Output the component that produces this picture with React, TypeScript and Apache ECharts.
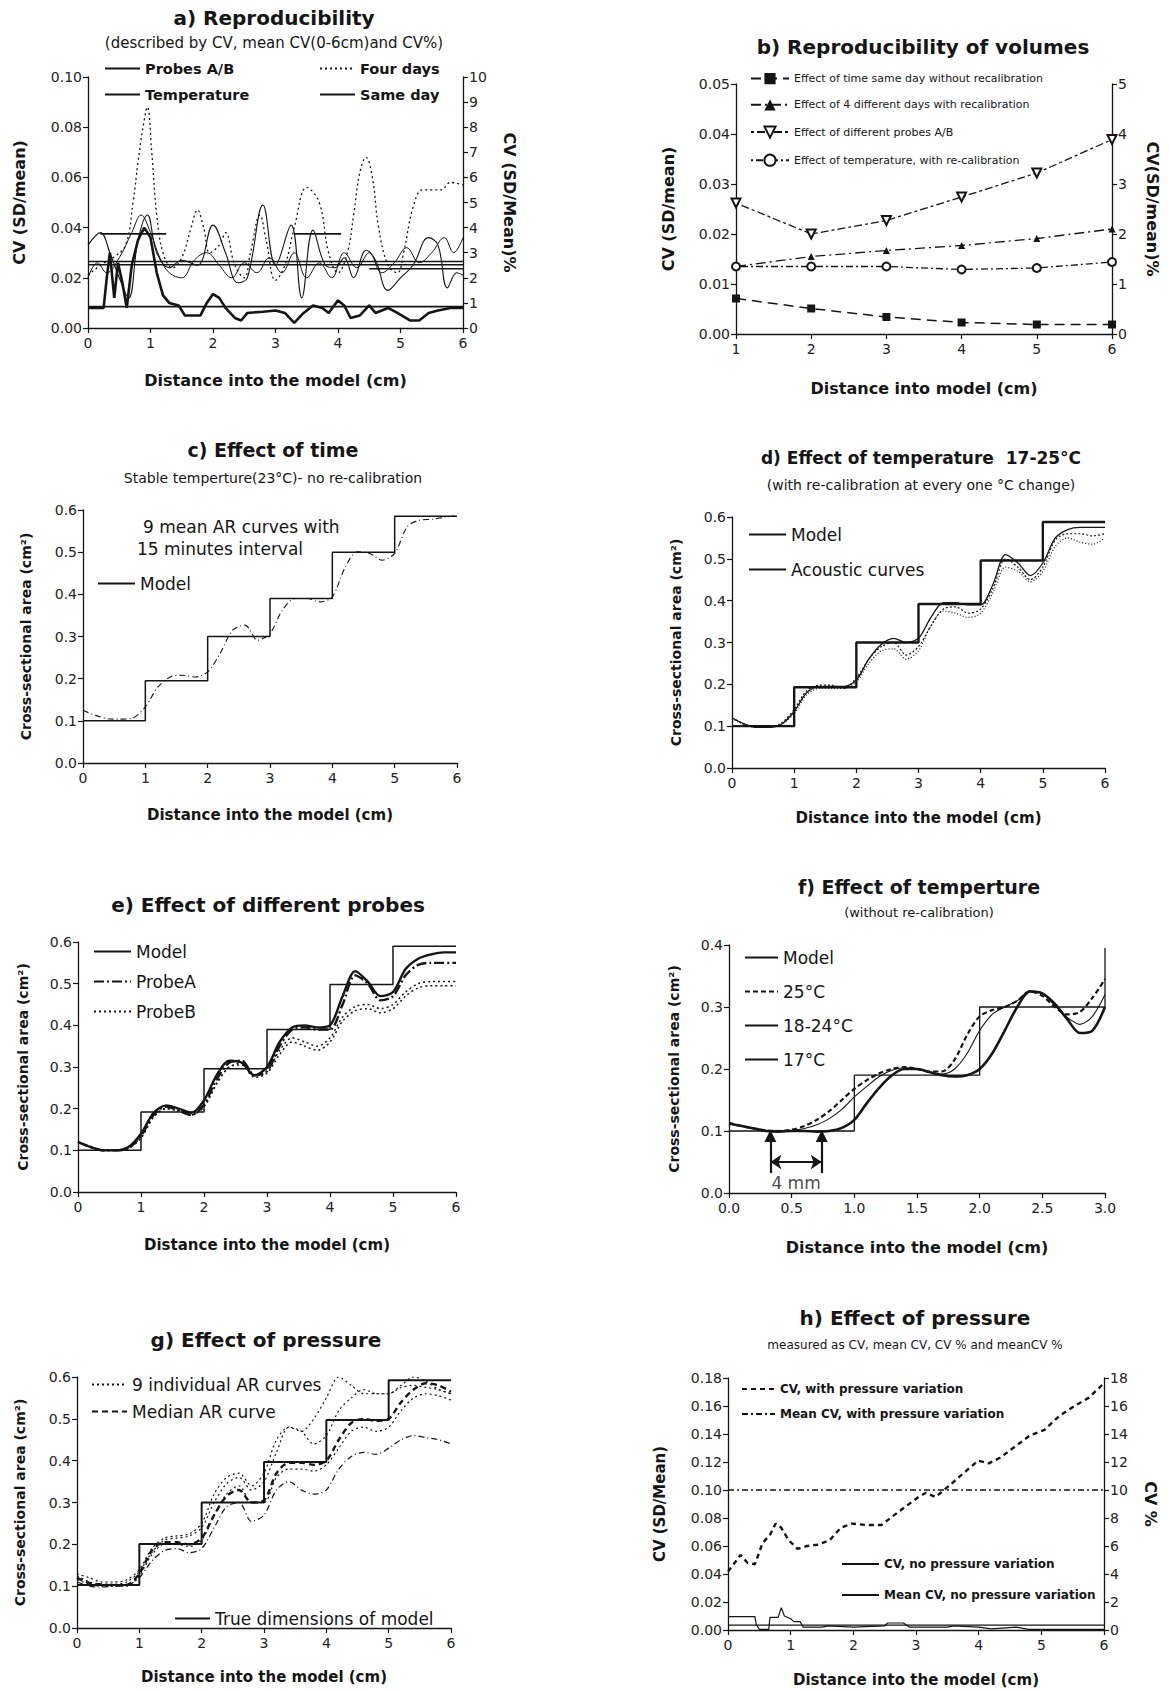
import React, { useEffect, useRef } from 'react';
import * as echarts from 'echarts';

const FONT = 'DejaVu Sans';

// ---------- shared sample positions (cm) ----------
const X6 = [0, 0.2, 0.4, 0.6, 0.8, 1, 1.2, 1.4, 1.6, 1.8, 2, 2.2, 2.4, 2.6, 2.8, 3, 3.2, 3.4, 3.6, 3.8, 4, 4.2, 4.4, 4.6, 4.8, 5, 5.2, 5.4, 5.6, 5.8, 6];
const X3 = [0, 0.1, 0.2, 0.3, 0.4, 0.5, 0.6, 0.7, 0.8, 0.9, 1, 1.1, 1.2, 1.3, 1.4, 1.5, 1.6, 1.7, 1.8, 1.9, 2, 2.1, 2.2, 2.3, 2.4, 2.5, 2.6, 2.7, 2.8, 2.9, 3];

// ---------- a) Reproducibility ----------
const aProbes = [[0,0.033],[0.2,0.038],[0.35,0.03],[0.5,0.02],[0.65,0.012],[0.8,0.035],[0.95,0.045],[1.1,0.03],[1.3,0.024],[1.5,0.027],[1.75,0.025],[2.0,0.041],[2.2,0.03],[2.4,0.018],[2.55,0.02],[2.8,0.049],[3.0,0.025],[3.25,0.041],[3.42,0.012],[3.6,0.039],[3.8,0.025],[3.95,0.024],[4.1,0.028],[4.25,0.02],[4.45,0.031],[4.6,0.027],[4.8,0.015],[5.0,0.02],[5.2,0.025],[5.45,0.036],[5.6,0.033],[5.75,0.016],[5.9,0.022],[6.0,0.021]];
const aTemp = [[0,0.02],[0.15,0.026],[0.3,0.022],[0.5,0.028],[0.7,0.038],[0.85,0.045],[1.0,0.038],[1.15,0.028],[1.3,0.022],[1.5,0.02],[1.7,0.027],[1.9,0.03],[2.1,0.025],[2.3,0.02],[2.5,0.026],[2.7,0.022],[2.9,0.028],[3.1,0.022],[3.3,0.03],[3.5,0.02],[3.7,0.026],[3.9,0.02],[4.1,0.03],[4.3,0.024],[4.5,0.03],[4.7,0.022],[4.9,0.026],[5.1,0.032],[5.3,0.026],[5.5,0.03],[5.7,0.036],[5.85,0.03],[6.0,0.036]];
const aFour = [[0,0.021],[0.2,0.025],[0.4,0.028],[0.6,0.033],[0.72,0.05],[0.8,0.066],[0.88,0.08],[0.95,0.088],[1.02,0.07],[1.1,0.045],[1.2,0.03],[1.35,0.024],[1.5,0.028],[1.65,0.04],[1.75,0.047],[1.85,0.04],[1.95,0.03],[2.1,0.033],[2.2,0.038],[2.35,0.025],[2.5,0.02],[2.6,0.03],[2.75,0.045],[2.85,0.035],[3.0,0.019],[3.15,0.025],[3.3,0.04],[3.5,0.056],[3.7,0.05],[3.85,0.03],[4.0,0.022],[4.15,0.03],[4.25,0.045],[4.35,0.062],[4.45,0.068],[4.55,0.06],[4.65,0.04],[4.8,0.025],[4.95,0.022],[5.05,0.03],[5.2,0.048],[5.35,0.055],[5.5,0.055],[5.65,0.055],[5.8,0.058],[6.0,0.057]];
const aSame = [[0,0.008],[0.25,0.008],[0.3,0.02],[0.35,0.03],[0.42,0.012],[0.48,0.026],[0.55,0.018],[0.62,0.008],[0.7,0.025],[0.8,0.035],[0.9,0.04],[1.0,0.036],[1.1,0.022],[1.2,0.013],[1.3,0.01],[1.45,0.009],[1.55,0.005],[1.8,0.005],[1.9,0.01],[2.0,0.0135],[2.1,0.012],[2.2,0.008],[2.35,0.004],[2.45,0.003],[2.55,0.006],[2.8,0.0065],[3.0,0.007],[3.15,0.006],[3.3,0.002],[3.45,0.006],[3.6,0.009],[3.75,0.008],[3.85,0.006],[4.0,0.011],[4.1,0.009],[4.2,0.004],[4.35,0.005],[4.5,0.009],[4.6,0.006],[4.8,0.008],[4.95,0.006],[5.15,0.003],[5.3,0.003],[5.45,0.006],[5.6,0.007],[5.8,0.008],[6.0,0.008]];
// mean CV levels: [level, from, to]
const aMeans = [[0.0375, 0.2, 1.25], [0.0375, 3.3, 4.05], [0.0265, 0, 6], [0.0252, 0, 6], [0.0236, 4.5, 6], [0.0085, 0, 6]];

// ---------- b) Reproducibility of volumes ----------
const bX = [1, 2, 3, 4, 5, 6];
const bTime = [0.0071, 0.0051, 0.0034, 0.0023, 0.0019, 0.0019];
const bDays = [0.0135, 0.0155, 0.0167, 0.0177, 0.0191, 0.021];
const bProbes = [0.0262, 0.02, 0.0227, 0.0274, 0.0322, 0.0389];
const bTemp = [0.0135, 0.0135, 0.0135, 0.0129, 0.0132, 0.0144];

// ---------- model step dimensions ----------
const modelX = [0, 1, 2, 3, 4, 5, 6];
const modelC = [0.1, 0.195, 0.3, 0.39, 0.5, 0.585, 0.585];
const modelD = [0.1, 0.193, 0.3, 0.392, 0.496, 0.588, 0.588];
const modelE = [0.1, 0.192, 0.296, 0.39, 0.498, 0.59, 0.59];
const modelG = [0.103, 0.201, 0.3, 0.397, 0.497, 0.592, 0.592];
const modelFX = [0, 1, 2, 3, 3];
const modelF = [0.1, 0.19, 0.3, 0.3, 0.395];

// ---------- c) Effect of time ----------
const cMean = [0.125,0.113,0.105,0.104,0.107,0.133,0.18,0.204,0.208,0.204,0.216,0.26,0.315,0.327,0.291,0.307,0.363,0.39,0.39,0.382,0.394,0.462,0.501,0.497,0.481,0.497,0.56,0.576,0.578,0.583,0.586];

// ---------- d) Effect of temperature with re-calibration ----------
const d1 = [0.12,0.105,0.097,0.097,0.105,0.135,0.18,0.195,0.195,0.195,0.21,0.26,0.295,0.31,0.3,0.31,0.36,0.395,0.395,0.39,0.39,0.44,0.51,0.49,0.46,0.49,0.55,0.57,0.575,0.575,0.575];
const d2 = [0.12,0.105,0.098,0.098,0.108,0.14,0.185,0.198,0.198,0.19,0.215,0.26,0.29,0.3,0.27,0.29,0.34,0.38,0.385,0.37,0.38,0.43,0.5,0.48,0.45,0.48,0.545,0.56,0.56,0.555,0.56];
const d3 = [0.118,0.103,0.097,0.097,0.105,0.13,0.175,0.19,0.19,0.19,0.205,0.25,0.28,0.285,0.26,0.28,0.34,0.375,0.37,0.36,0.37,0.42,0.48,0.47,0.445,0.47,0.53,0.55,0.54,0.535,0.55];

// ---------- e) Effect of different probes ----------
const eA1 = [0.12,0.108,0.1,0.1,0.105,0.135,0.185,0.205,0.195,0.185,0.21,0.27,0.31,0.315,0.28,0.29,0.35,0.39,0.395,0.39,0.39,0.45,0.52,0.5,0.46,0.47,0.52,0.545,0.55,0.55,0.55];
const eA2 = [0.12,0.108,0.1,0.1,0.108,0.14,0.19,0.208,0.2,0.19,0.22,0.28,0.315,0.31,0.28,0.3,0.36,0.395,0.4,0.395,0.4,0.47,0.53,0.505,0.47,0.48,0.535,0.56,0.57,0.575,0.575];
const eB1 = [0.12,0.108,0.1,0.1,0.105,0.13,0.18,0.2,0.195,0.185,0.205,0.26,0.3,0.31,0.28,0.29,0.34,0.37,0.36,0.35,0.37,0.42,0.445,0.45,0.44,0.45,0.48,0.5,0.505,0.505,0.505];
const eB2 = [0.12,0.108,0.1,0.1,0.105,0.13,0.18,0.2,0.195,0.185,0.205,0.26,0.3,0.305,0.275,0.285,0.33,0.36,0.35,0.34,0.36,0.41,0.435,0.44,0.43,0.44,0.47,0.49,0.495,0.495,0.495];

// ---------- f) Effect of temperature without re-calibration ----------
const f25 = [0.113,0.108,0.104,0.101,0.1,0.102,0.108,0.118,0.132,0.15,0.168,0.182,0.193,0.2,0.203,0.2,0.196,0.196,0.215,0.255,0.285,0.295,0.3,0.31,0.325,0.318,0.3,0.288,0.292,0.315,0.345];
const f1824 = [0.112,0.108,0.104,0.1,0.099,0.101,0.104,0.11,0.12,0.135,0.155,0.172,0.188,0.198,0.202,0.2,0.195,0.192,0.2,0.225,0.262,0.288,0.3,0.31,0.326,0.322,0.302,0.283,0.272,0.285,0.32];
const f17 = [0.112,0.108,0.104,0.1,0.099,0.1,0.1,0.099,0.1,0.105,0.118,0.145,0.17,0.19,0.2,0.2,0.195,0.19,0.188,0.19,0.2,0.225,0.262,0.3,0.325,0.322,0.305,0.28,0.258,0.262,0.3];
const fArrowX = [0.33, 0.74];
const fArrowY = [0.032, 0.092];
const fSpanY = 0.05;
const fLabelPos = [0.535, 0.016];

// ---------- g) Effect of pressure ----------
const gMedian = [0.12,0.108,0.104,0.102,0.103,0.13,0.185,0.205,0.205,0.2,0.215,0.27,0.315,0.33,0.3,0.305,0.37,0.395,0.395,0.39,0.4,0.45,0.49,0.5,0.495,0.5,0.54,0.57,0.585,0.58,0.565];
const g1 = [0.125,0.11,0.105,0.105,0.11,0.135,0.18,0.21,0.215,0.22,0.24,0.3,0.345,0.36,0.33,0.35,0.42,0.48,0.47,0.44,0.46,0.52,0.55,0.57,0.56,0.56,0.58,0.6,0.59,0.57,0.56];
const g2 = [0.11,0.1,0.098,0.1,0.102,0.12,0.16,0.185,0.19,0.18,0.19,0.24,0.29,0.3,0.255,0.27,0.33,0.35,0.33,0.32,0.33,0.38,0.41,0.42,0.415,0.43,0.45,0.46,0.455,0.45,0.44];
const g3 = [0.115,0.105,0.1,0.1,0.1,0.125,0.175,0.2,0.2,0.195,0.21,0.27,0.32,0.34,0.3,0.3,0.36,0.38,0.38,0.375,0.39,0.43,0.47,0.48,0.47,0.48,0.52,0.55,0.56,0.555,0.545];
const g4 = [0.13,0.12,0.11,0.11,0.115,0.14,0.19,0.215,0.22,0.225,0.25,0.32,0.36,0.37,0.34,0.37,0.45,0.48,0.47,0.5,0.55,0.6,0.58,0.56,0.56,0.56,0.575,0.58,0.575,0.57,0.56];

// ---------- h) Effect of pressure (CV) ----------
const hWithP = [[0,0.0417],[0.14,0.05],[0.2,0.0536],[0.31,0.048],[0.43,0.047],[0.55,0.062],[0.67,0.068],[0.76,0.076],[0.85,0.073],[0.97,0.064],[1.11,0.058],[1.26,0.06],[1.44,0.061],[1.62,0.064],[1.8,0.073],[1.97,0.076],[2.21,0.075],[2.45,0.075],[2.62,0.081],[2.86,0.089],[3.04,0.095],[3.16,0.098],[3.31,0.095],[3.45,0.1],[3.63,0.107],[3.81,0.114],[3.99,0.121],[4.16,0.119],[4.34,0.123],[4.58,0.131],[4.82,0.139],[5.05,0.143],[5.29,0.153],[5.53,0.16],[5.76,0.166],[5.97,0.175]];
const hMeanWithP = 0.1;
const hNoP = [[0,0.0095],[0.43,0.0095],[0.45,0.004],[0.5,0.0005],[0.65,0.0005],[0.67,0.009],[0.8,0.009],[0.85,0.016],[0.9,0.01],[1.0,0.008],[1.05,0.006],[1.15,0.006],[1.2,0.002],[1.5,0.002],[1.6,0.003],[2.0,0.002],[2.5,0.003],[2.55,0.005],[2.8,0.005],[2.9,0.002],[3.5,0.002],[3.6,0.003],[4.0,0.002],[4.2,0.0008],[4.6,0.002],[4.8,0.0005],[6.0,0.0005]];
const hMeanNoP = 0.0035;

const zip = (xs: number[], ys: number[]) => xs.map((x, i) => [x, ys[i]]);

const INK = '#151515';

function xAx(grid: number, min: number, max: number, interval: number, name: string, gap: number, dec: number, nameSize = 15) {
  return {
    type: 'value', gridIndex: grid, min, max, interval,
    name, nameLocation: 'middle', nameGap: gap,
    nameTextStyle: { fontSize: nameSize, fontWeight: 'bold', fontFamily: FONT, color: INK },
    axisLine: { show: true, onZero: false, lineStyle: { color: INK, width: 1.3 } },
    axisTick: { show: true, length: 5, lineStyle: { color: INK, width: 1.2 } },
    axisLabel: { color: '#222', fontSize: 14, fontFamily: FONT, margin: 8, formatter: (v: number) => v.toFixed(dec) },
    splitLine: { show: false },
  };
}

function yAx(grid: number, min: number, max: number, interval: number, name: string, gap: number, dec: number, right = false, nameSize = 15) {
  return {
    type: 'value', gridIndex: grid, min, max, interval, position: right ? 'right' : 'left',
    name, nameLocation: 'middle', nameGap: gap, nameRotate: right ? -90 : 90,
    nameTextStyle: { fontSize: nameSize, fontWeight: 'bold', fontFamily: FONT, color: INK },
    axisLine: { show: true, onZero: false, lineStyle: { color: INK, width: 1.3 } },
    axisTick: { show: true, length: 5, lineStyle: { color: INK, width: 1.2 } },
    axisLabel: { color: '#222', fontSize: 14, fontFamily: FONT, margin: 6, formatter: (v: number) => v.toFixed(dec) },
    splitLine: { show: false },
  };
}

function leg(names: string[], left: number, top: number, itemWidth: number, itemGap: number, fontSize: number, bold = false, keepSymbols = false) {
  const l: any = {
    show: true, selectedMode: false, orient: 'vertical', left, top, itemWidth, itemHeight: 14, itemGap, padding: 0,
    data: names,
    formatter: (n: string) => n.split('#')[0],
    textStyle: { fontSize, fontFamily: FONT, fontWeight: bold ? 'bold' : 'normal', color: INK },
  };
  if (!keepSymbols) l.itemStyle = { opacity: 0 };
  return l;
}

function ln(name: string, xi: number, yi: number, data: any[], lineStyle: any, extra: any = {}) {
  return {
    type: 'line', name, xAxisIndex: xi, yAxisIndex: yi, data,
    symbol: 'none', showSymbol: false, silent: true,
    lineStyle: { color: INK, width: 1, ...lineStyle },
    itemStyle: { color: INK },
    emphasis: { disabled: true },
    ...extra,
  };
}

function txt(text: string, x: number, y: number, size: number, bold = false, align = 'center') {
  return {
    type: 'text', x, y, silent: true,
    style: {
      text, fill: INK, fontSize: size, fontWeight: bold ? 'bold' : 'normal', fontFamily: FONT,
      align, verticalAlign: 'middle', textAlign: align, textVerticalAlign: 'middle',
    },
  };
}

function buildOption() {
  const grids = [
    { left: 88, top: 77, width: 375, height: 251 },   // a
    { left: 736, top: 84, width: 376, height: 250 },  // b
    { left: 83, top: 510, width: 374, height: 253 },  // c
    { left: 732, top: 517, width: 373, height: 251 }, // d
    { left: 78, top: 942, width: 378, height: 250 },  // e
    { left: 729, top: 945, width: 376, height: 248 }, // f
    { left: 77, top: 1377, width: 374, height: 251 }, // g
    { left: 728, top: 1378, width: 376, height: 252 },// h
  ];

  const xAxis = [
    xAx(0, 0, 6, 1, 'Distance into the model (cm)', 44, 0, 16),
    xAx(1, 1, 6, 1, 'Distance into model (cm)', 46, 0, 16),
    xAx(2, 0, 6, 1, 'Distance into the model (cm)', 44, 0, 15),
    xAx(3, 0, 6, 1, 'Distance into the model (cm)', 42, 0, 15),
    xAx(4, 0, 6, 1, 'Distance into the model (cm)', 45, 0, 15),
    xAx(5, 0, 3, 0.5, 'Distance into the model (cm)', 46, 1, 16),
    xAx(6, 0, 6, 1, 'Distance into the model (cm)', 41, 0, 15),
    xAx(7, 0, 6, 1, 'Distance into the model (cm)', 42, 0, 15),
  ];

  const yAxis = [
    yAx(0, 0, 0.1, 0.02, 'CV (SD/mean)', 61, 2, false, 16),
    yAx(0, 0, 10, 1, 'CV (SD/Mean)%', 38, 0, true, 16),
    yAx(1, 0, 0.05, 0.01, 'CV (SD/mean)', 60, 2, false, 16),
    yAx(1, 0, 5, 1, 'CV(SD/mean)%', 32, 0, true, 16),
    yAx(2, 0, 0.6, 0.1, 'Cross-sectional area (cm²)', 50, 1, false, 14),
    yAx(3, 0, 0.6, 0.1, 'Cross-sectional area (cm²)', 49, 1, false, 14),
    yAx(4, 0, 0.6, 0.1, 'Cross-sectional area (cm²)', 48, 1, false, 14),
    yAx(5, 0, 0.4, 0.1, 'Cross-sectional area (cm²)', 48, 1, false, 14),
    yAx(6, 0, 0.6, 0.1, 'Cross-sectional area (cm²)', 50, 1, false, 14),
    yAx(7, 0, 0.18, 0.02, 'CV (SD/Mean)', 61, 2, false, 15),
    yAx(7, 0, 18, 2, 'CV %', 38, 0, true, 16),
  ];

  const series: any[] = [];
  // a
  series.push(ln('Probes A/B#a', 0, 0, aProbes, { width: 1.1 }, { smooth: 0.4 }));
  series.push(ln('Temperature#a', 0, 0, aTemp, { width: 1 }, { smooth: 0.4 }));
  series.push(ln('Four days#a', 0, 0, aFour, { width: 1.3, type: [2, 3] }, { smooth: 0.4 }));
  series.push(ln('Same day#a', 0, 0, aSame, { width: 2.6 }));
  aMeans.forEach((m, i) => series.push(ln(`_mean${i}#a`, 0, 0, [[m[1], m[0]], [m[2], m[0]]], { width: 1.6 })));

  // b
  series.push(ln('Effect of time same day without recalibration#b', 1, 2, zip(bX, bTime), { width: 1.5, type: [10, 6] }, { symbol: 'rect', symbolSize: 8, showSymbol: true }));
  series.push(ln('Effect of 4 different days with recalibration#b', 1, 2, zip(bX, bDays), { width: 1.3, type: [10, 4, 2, 4] }, { symbol: 'triangle', symbolSize: 7, showSymbol: true }));
  series.push(ln('Effect of different probes A/B#b', 1, 2, zip(bX, bProbes), { width: 1.3, type: [3, 3, 8, 3] }, { symbol: 'emptyTriangle', symbolRotate: 180, symbolSize: 9, showSymbol: true }));
  series.push(ln('Effect of temperature, with re-calibration#b', 1, 2, zip(bX, bTemp), { width: 1.3, type: [2, 3, 7, 3] }, { symbol: 'emptyCircle', symbolSize: 8, showSymbol: true }));

  // c
  series.push(ln('_curve#c', 2, 4, zip(X6, cMean), { width: 1.1, type: [6, 3, 1, 3] }, { smooth: 0.3 }));
  series.push(ln('Model#c', 2, 4, zip(modelX, modelC), { width: 1.5 }, { step: 'end' }));

  // d
  series.push(ln('Model#d', 3, 5, zip(modelX, modelD), { width: 2.4 }, { step: 'end' }));
  series.push(ln('Acoustic curves#d', 3, 5, zip(X6, d1), { width: 1.3 }, { smooth: 0.3 }));
  series.push(ln('_d2#d', 3, 5, zip(X6, d2), { width: 1.2, type: [2, 2] }, { smooth: 0.3 }));
  series.push(ln('_d3#d', 3, 5, zip(X6, d3), { width: 1.2, type: [1, 2] }, { smooth: 0.3 }));

  // e
  series.push(ln('Model#e', 4, 6, zip(modelX, modelE), { width: 1.5 }, { step: 'end' }));
  series.push(ln('ProbeA#e', 4, 6, zip(X6, eA1), { width: 2.4, type: [10, 3, 2, 3] }, { smooth: 0.3 }));
  series.push(ln('_a2#e', 4, 6, zip(X6, eA2), { width: 2.4 }, { smooth: 0.3 }));
  series.push(ln('ProbeB#e', 4, 6, zip(X6, eB1), { width: 1.5, type: [2, 3] }, { smooth: 0.3 }));
  series.push(ln('_b2#e', 4, 6, zip(X6, eB2), { width: 1.5, type: [2, 3] }, { smooth: 0.3 }));

  // f
  series.push(ln('Model#f', 5, 7, zip(modelFX, modelF), { width: 1.3 }, { step: 'end' }));
  series.push(ln('25°C#f', 5, 7, zip(X3, f25), { width: 2.2, type: [5, 3] }, { smooth: 0.3 }));
  series.push(ln('18-24°C#f', 5, 7, zip(X3, f1824), { width: 1.1 }, { smooth: 0.3 }));
  series.push(ln('17°C#f', 5, 7, zip(X3, f17), { width: 2.6 }, { smooth: 0.3 }));
  series.push(ln('_arrowsV#f', 5, 7, [[fArrowX[0], fArrowY[0]]], { width: 0, opacity: 0 }, {
    markLine: {
      silent: true, symbol: ['none', 'triangle'], symbolSize: 12, animation: false,
      label: { show: false }, lineStyle: { color: INK, width: 2.2, type: 'solid' },
      data: fArrowX.map((x) => [{ coord: [x, fArrowY[0]] }, { coord: [x, fArrowY[1]] }]),
    },
  }));
  series.push(ln('_arrowH#f', 5, 7, [[fArrowX[0], fSpanY]], { width: 0, opacity: 0 }, {
    markLine: {
      silent: true, symbol: ['arrow', 'arrow'], symbolSize: 11, animation: false,
      label: { show: false }, lineStyle: { color: INK, width: 2.2, type: 'solid' },
      data: [[{ coord: [fArrowX[0], fSpanY] }, { coord: [fArrowX[1], fSpanY] }]],
    },
  }));
  series.push({
    type: 'scatter', name: '_label#f', xAxisIndex: 5, yAxisIndex: 7, data: [fLabelPos], symbolSize: 0, silent: true,
    label: { show: true, position: 'inside', formatter: '4 mm', fontSize: 17, fontFamily: FONT, color: INK },
  });

  // g
  series.push(ln('True dimensions of model#g', 6, 8, zip(modelX, modelG), { width: 2 }, { step: 'end' }));
  series.push(ln('9 individual AR curves#g', 6, 8, zip(X6, g1), { width: 1.2, type: [2, 3] }, { smooth: 0.3 }));
  series.push(ln('_g2#g', 6, 8, zip(X6, g2), { width: 1.2, type: [6, 3, 1, 3] }, { smooth: 0.3 }));
  series.push(ln('_g3#g', 6, 8, zip(X6, g3), { width: 1.2, type: [2, 3] }, { smooth: 0.3 }));
  series.push(ln('_g4#g', 6, 8, zip(X6, g4), { width: 1.2, type: [2, 3] }, { smooth: 0.3 }));
  series.push(ln('Median AR curve#g', 6, 8, zip(X6, gMedian), { width: 2.4, type: [6, 4] }, { smooth: 0.3 }));

  // h
  series.push(ln('CV, with pressure variation#h', 7, 9, hWithP, { width: 2.4, type: [5, 4] }));
  series.push(ln('Mean CV, with pressure variation#h', 7, 9, [[0, hMeanWithP], [6, hMeanWithP]], { width: 1.3, type: [6, 3, 2, 3] }));
  series.push(ln('CV, no pressure variation#h', 7, 9, hNoP, { width: 1.2 }));
  series.push(ln('Mean CV, no pressure variation#h', 7, 9, [[0, hMeanNoP], [6, hMeanNoP]], { width: 1.2 }));

  const legend = [
    leg(['Probes A/B#a', 'Temperature#a'], 104, 61, 35, 11, 14.5, true),
    leg(['Four days#a', 'Same day#a'], 319, 61, 35, 11, 14.5, true),
    leg(['Effect of time same day without recalibration#b', 'Effect of 4 different days with recalibration#b', 'Effect of different probes A/B#b', 'Effect of temperature, with re-calibration#b'], 750, 73, 38, 15, 11, false, true),
    leg(['Model#c'], 97, 575, 37, 10, 17),
    leg(['Model#d', 'Acoustic curves#d'], 748, 526, 37, 18, 17),
    leg(['Model#e', 'ProbeA#e', 'ProbeB#e'], 93, 943, 37, 13, 17),
    leg(['Model#f', '25°C#f', '18-24°C#f', '17°C#f'], 744, 949, 33, 17, 17),
    leg(['9 individual AR curves#g', 'Median AR curve#g'], 91, 1376, 35, 10, 17),
    leg(['True dimensions of model#g'], 174, 1610, 35, 10, 17),
    leg(['CV, with pressure variation#h', 'Mean CV, with pressure variation#h'], 741, 1383, 33, 13, 12, true),
    leg(['CV, no pressure variation#h', 'Mean CV, no pressure variation#h'], 841, 1558, 37, 19, 12, true),
  ];

  const graphic = [
    txt('a) Reproducibility', 274, 18, 20, true),
    txt('(described by CV, mean CV(0-6cm)and CV%)', 274, 43, 15),
    txt('b) Reproducibility of volumes', 923, 47, 20, true),
    txt('c) Effect of time', 273, 450, 19, true),
    txt('Stable temperture(23°C)- no re-calibration', 273, 478, 14),
    txt('9 mean AR curves with', 143, 527, 17, false, 'left'),
    txt('15 minutes interval', 137, 549, 17, false, 'left'),
    txt('d) Effect of temperature  17-25°C', 921, 458, 17, true),
    txt('(with re-calibration at every one °C change)', 921, 485, 14),
    txt('e) Effect of different probes', 268, 905, 20, true),
    txt('f) Effect of temperture', 919, 887, 19, true),
    txt('(without re-calibration)', 919, 912, 13),
    txt('g) Effect of pressure', 266, 1340, 20, true),
    txt('h) Effect of pressure', 915, 1318, 20, true),
    txt('measured as CV, mean CV, CV % and meanCV %', 915, 1345, 12),
  ];

  return {
    animation: false,
    backgroundColor: '#ffffff',
    textStyle: { fontFamily: FONT },
    grid: grids,
    xAxis,
    yAxis,
    legend,
    series,
    graphic,
  };
}

export default function App() {
  const ref = useRef<HTMLDivElement>(null);
  useEffect(() => {
    document.body.style.margin = '0';
    const chart = echarts.init(ref.current as HTMLDivElement, undefined, { renderer: 'svg' });
    chart.setOption(buildOption() as any);
    return () => chart.dispose();
  }, []);
  return <div ref={ref} style={{ width: 1169, height: 1692, background: '#fff' }} />;
}
